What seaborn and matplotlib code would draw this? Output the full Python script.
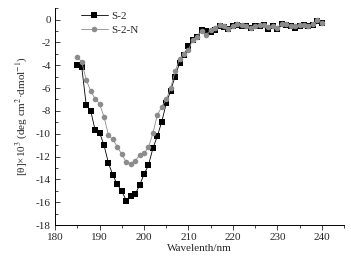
import matplotlib
matplotlib.use("Agg")
import matplotlib.pyplot as plt
from matplotlib.ticker import MultipleLocator
import seaborn as sns
import pandas as pd

# wavelength grid (nm), one point per nm
wavelength = list(range(185, 241))

# S-2 (black squares)
s2 = [-3.96, -4.20, -7.48, -7.98, -9.68, -9.90, -11.00, -12.56, -13.64, -14.44,
      -15.03, -15.85, -15.49, -15.32, -14.52, -13.56, -12.76, -11.29, -10.21, -8.95,
      -7.35, -6.22, -4.99, -3.81, -3.08, -2.35, -1.75, -1.50, -0.88, -1.03,
      -1.10, -0.95, -0.55, -0.62, -0.85, -0.55, -0.45, -0.55, -0.60, -0.78,
      -0.60, -0.55, -0.50, -0.85, -0.55, -0.80, -0.40, -0.45, -0.55, -0.70,
      -0.55, -0.45, -0.60, -0.45, -0.15, -0.30]

# S-2-N (grey circles)
s2n = [-3.28, -3.72, -5.28, -6.25, -6.95, -7.39, -8.51, -10.12, -10.50, -11.15,
       -11.80, -12.47, -12.62, -12.38, -11.88, -11.73, -11.20, -9.97, -8.36, -7.65,
       -7.00, -6.00, -4.55, -3.46, -2.99, -2.64, -1.76, -1.52, -0.97, -1.32,
       -0.94, -0.73, -0.44, -0.59, -0.82, -0.53, -0.40, -0.45, -0.60, -0.70,
       -0.55, -0.50, -0.45, -0.65, -0.55, -0.70, -0.35, -0.40, -0.55, -0.60,
       -0.50, -0.45, -0.55, -0.40, 0.00, -0.30]

samples = ["S-2", "S-2-N"]
x_ticks = [180, 190, 200, 210, 220, 230, 240]
y_ticks = list(range(-18, 1, 2))

df = pd.DataFrame({
    "wavelength": wavelength * 2,
    "theta": s2 + s2n,
    "sample": [samples[0]] * len(s2) + [samples[1]] * len(s2n),
})

sns.set_style("ticks")
plt.rcParams["font.family"] = ["Liberation Serif", "DejaVu Serif"]
plt.rcParams["mathtext.fontset"] = "stix"
plt.rcParams["axes.unicode_minus"] = False

fig = plt.figure(figsize=(3.51, 2.62), dpi=100)
ax = fig.add_axes([0.157, 0.141, 0.823, 0.828])

sns.lineplot(
    data=df, x="wavelength", y="theta", hue="sample", style="sample",
    hue_order=samples, style_order=samples,
    palette={"S-2": "black", "S-2-N": "#8c8c8c"},
    markers={"S-2": "s", "S-2-N": "o"}, dashes=False,
    markersize=4, markeredgewidth=0, linewidth=0.6, ax=ax,
)

ax.set_xlim(180, 245)
ax.set_ylim(-18, 1)
ax.set_xticks(x_ticks)
ax.set_yticks(y_ticks)
ax.xaxis.set_minor_locator(MultipleLocator(5))
ax.yaxis.set_minor_locator(MultipleLocator(1))
ax.tick_params(axis="x", which="major", direction="out", length=3.5, width=0.6, labelsize=8, pad=2)
ax.tick_params(axis="x", which="minor", direction="out", length=2, width=0.6)
ax.tick_params(axis="y", which="major", direction="in", length=3.5, width=0.6, labelsize=8, pad=3)
ax.tick_params(axis="y", which="minor", direction="in", length=2, width=0.6)

for side in ["top", "right"]:
    ax.spines[side].set_visible(False)
for side in ["left", "bottom"]:
    ax.spines[side].set_linewidth(0.7)
    ax.spines[side].set_color("black")

ax.set_xlabel("Wavelenth/nm", fontsize=8, labelpad=2)
ax.set_ylabel("[θ]×10$^{3}$ (deg cm$^{2}$·dmol$^{-1}$)", fontsize=8, labelpad=5)

ax.legend(
    loc="upper left", bbox_to_anchor=(0.09, 0.985), frameon=False,
    fontsize=8, handlelength=2.4, handletextpad=0.3, labelspacing=0.4,
    borderpad=0, borderaxespad=0,
)

fig.savefig("out.png", dpi=100)
